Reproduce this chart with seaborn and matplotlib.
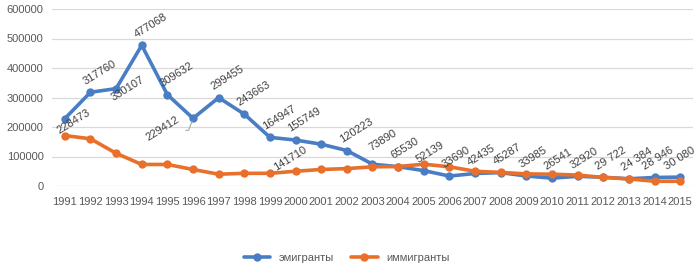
import pandas as pd
import matplotlib.pyplot as plt
import seaborn as sns

years = list(range(1991, 2016))
emigrants = [228473, 317760, 330107, 477068, 309632, 229412, 299455, 243663,
             164947, 155749, 141710, 120223, 73890, 65530, 52139, 33690,
             42435, 45287, 33985, 26541, 32920, 29722, 24384, 28946, 30080]
immigrants = [171000, 160000, 111000, 73000, 73000, 56000, 40000, 43000,
              43000, 50000, 56000, 59000, 65000, 66000, 74000, 65000,
              50000, 46000, 41000, 40000, 37000, 29000, 24000, 16000, 16000]
emig_labels = ['228473', '317760', '330107', '477068', '309632', '229412',
               '299455', '243663', '164947', '155749', '141710', '120223',
               '73890', '65530', '52139', '33690', '42435', '45287', '33985',
               '26541', '32920', '29 722', '24 384', '28 946', '30 080']
series_names = ['эмигранты', 'иммигранты']
colors = ['#4a7ec4', '#e8702a']

df = pd.DataFrame({
    'year': years * 2,
    'value': emigrants + immigrants,
    'series': [series_names[0]] * len(years) + [series_names[1]] * len(years),
})

sns.set_style('white')
plt.rcParams['font.family'] = ['Liberation Sans', 'DejaVu Sans']

fig = plt.figure(figsize=(7, 2.69), dpi=100)
ax = fig.add_axes([52 / 700, 1 - 186 / 269, 641 / 700, 177 / 269])

sns.lineplot(data=df, x='year', y='value', hue='series', palette=colors,
             marker='o', markersize=6, markeredgewidth=0, linewidth=2.6, ax=ax)

ax.set_xlim(1990.5, 2015.5)
ax.set_ylim(0, 600000)
ax.set_xticks(years)
ax.set_yticks(range(0, 600001, 100000))
ax.set_xlabel('')
ax.set_ylabel('')
ax.grid(axis='y', color='#d9d9d9', linewidth=0.9)
ax.set_axisbelow(True)
sns.despine(ax=ax, left=True, bottom=True)
ax.tick_params(length=0, labelsize=8, labelcolor='#595959', pad=6)
ax.tick_params(axis='x', pad=8)

# label offsets in pixels (default above the point)
offsets = {1991: (-4, -17), 1993: (-1, -14), 1996: (-44, -24),
           2001: (-44, -29), 2003: (0, 12), 2014: (-8, 6), 2015: (-12, 5)}
for yr, val, lab in zip(years, emigrants, emig_labels):
    dx, dy = offsets.get(yr, (-4, 6))
    ax.annotate(lab, (yr, val), xytext=(dx, dy), textcoords='offset pixels',
                ha='left', va='bottom', rotation=32, rotation_mode='anchor',
                fontsize=8, color='#404040')
# leader line for 1996 label
ax.annotate('', (1996, 229412), xytext=(-10, -12), textcoords='offset pixels',
            arrowprops=dict(arrowstyle='-', color='#a6a6a6', lw=0.8,
                            connectionstyle='angle,angleA=0,angleB=70'))

sns.move_legend(ax, 'lower center', bbox_to_anchor=(0.46, -0.49), ncol=2,
                frameon=False, title=None, fontsize=8, handlelength=2.4,
                columnspacing=1.5, handletextpad=0.8)
for t in ax.get_legend().get_texts():
    t.set_color('#595959')

fig.savefig('out.png', dpi=100)
